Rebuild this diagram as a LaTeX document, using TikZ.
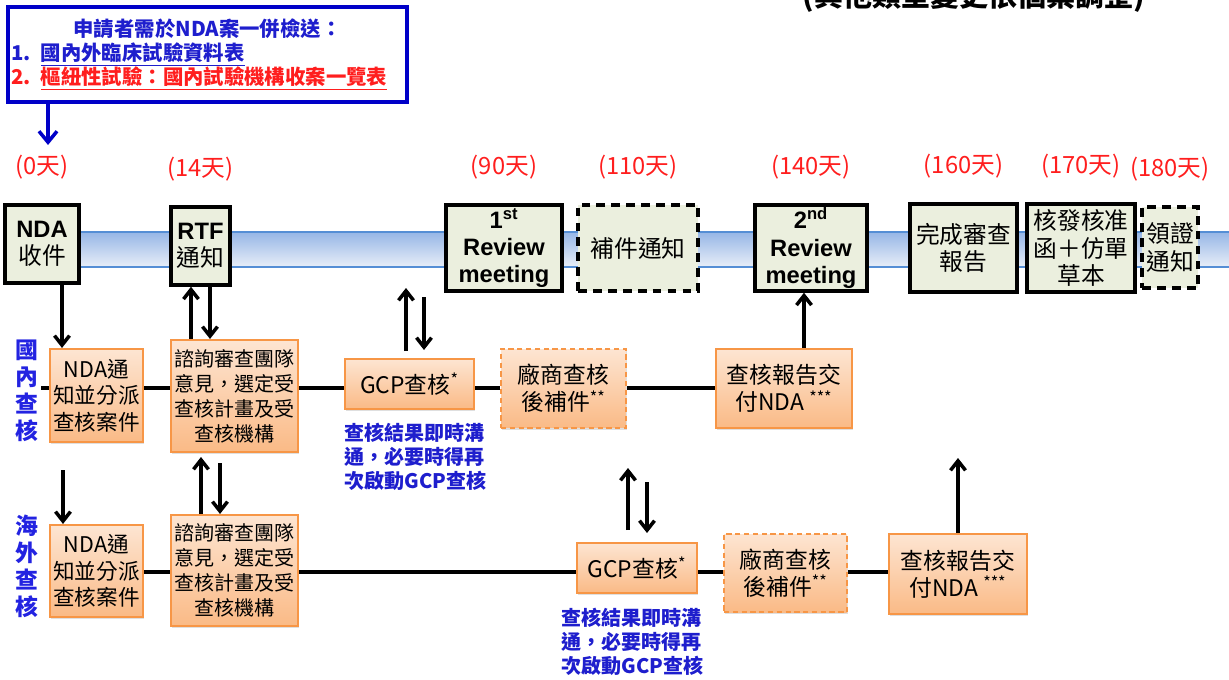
\documentclass[tikz,border=0pt]{standalone}
\usepackage{fontspec}
\setmainfont{Noto Sans CJK TC}
\newfontfamily\arialfont{Liberation Sans}
\usepackage{tikz}
\usetikzlibrary{positioning, arrows.meta, calc, shadows}
\usepackage{xcolor}
\definecolor{ms-fill}{RGB}{235,239,222}
\definecolor{tfda-orange}{RGB}{247,150,70}
\definecolor{box-top}{RGB}{253,229,210}
\definecolor{box-bot}{RGB}{250,186,134}
\definecolor{band-edge}{RGB}{85,142,213}
\definecolor{band-top}{RGB}{150,182,230}
\definecolor{band-bot}{RGB}{232,238,248}
\definecolor{req-blue}{RGB}{0,0,200}
\definecolor{note-blue}{RGB}{30,30,205}
\definecolor{row-blue}{RGB}{35,35,225}
\definecolor{day-red}{RGB}{255,30,30}

\begin{document}
\begin{tikzpicture}[x=0.02cm, y=-0.02cm, node distance=0.45cm,
		>={Straight Barb[length=1.9mm, width=3mm]},
		milestone/.style={draw, rectangle, line width=2pt, fill=ms-fill, inner sep=0pt, align=center, font=\fontsize{13.5}{15.5}\selectfont},
		msdash/.style={milestone, dash pattern=on 5pt off 3.5pt},
		msbold/.style={milestone, font=\arialfont\bfseries\fontsize{13.5}{15.5}\selectfont},
		taskbox/.style={draw=tfda-orange, rectangle, line width=1.2pt, top color=box-top, bottom color=box-bot, inner sep=0pt, align=center,
			drop shadow={shadow xshift=0.6pt, shadow yshift=-0.9pt, opacity=0.25}, font=\fontsize{13}{15.3}\selectfont},
		taskdash/.style={taskbox, dash pattern=on 3pt off 2pt},
		day/.style={text=day-red, inner sep=1pt, font=\fontsize{13.5}{16}\selectfont},
		rowlabel/.style={text=row-blue, inner sep=0pt, align=center, font=\bfseries\fontsize{13}{15.3}\selectfont},
		gcpnote/.style={text=note-blue, inner sep=0pt, align=left, anchor=north west, font=\bfseries\fontsize{11.4}{13.6}\selectfont},
		link/.style={line width=2pt},
		flow/.style={->, line width=2pt}]
	\useasboundingbox (0,0) rectangle (1229,679);

	% timeline band
	\fill[top color=band-top, bottom color=band-bot] (42,232) rectangle (1229,267);
	\draw[band-edge, line width=1.2pt] (42,232) -- (1229,232) (42,267) -- (1229,267);

	\node[anchor=south, inner sep=0pt, font=\bfseries\fontsize{16.5}{19}\selectfont] (adjust) at (974,13) {(其他類型變更依個案調整)};

	% documents to send with the NDA
	\node[draw=req-blue, line width=2pt, minimum width=7.98cm, minimum height=1.9cm, text width=7.86cm, inner xsep=0.06cm, align=left, font=\bfseries\fontsize{11.6}{13.8}\selectfont] (req) at (207.5,54.5)
		{\makebox[7.86cm]{\textcolor{note-blue}{申請者需於NDA案一併檢送：}}\\
		\textcolor{note-blue}{1. \underline{國內外臨床試驗資料表}}\\
		\textcolor{day-red}{2. \underline{樞紐性試驗：國內試驗機構收案一覽表}}};
	\coordinate (reqtip) at (48,145);
	\draw[->, req-blue, line width=2pt, >={Straight Barb[length=2.2mm, width=3.6mm]}] (reqtip |- req.south) -- (reqtip);

	% milestones on the timeline
	\node[msbold, minimum width=1.48cm, minimum height=1.56cm] (ndarecv) at (42,244) {NDA\\{\normalfont\fontsize{13.5}{15.5}\selectfont 收件}};
	\node[msbold, minimum width=1.18cm, minimum height=1.56cm] (rtf) at (200.5,246) {RTF\\{\normalfont\fontsize{13.5}{15.5}\selectfont 通知}};
	\node[msbold, minimum width=2.32cm, minimum height=1.72cm] (rev1) at (504,248) {1\textsuperscript{st}\\Review\\meeting};
	\node[msdash, minimum width=2.4cm, minimum height=1.72cm] (suppl) at (638,248) {補件通知};
	\node[msbold, minimum width=2.24cm, minimum height=1.72cm] (rev2) at (811,248) {2\textsuperscript{nd}\\Review\\meeting};
	\node[milestone, minimum width=2.14cm, minimum height=1.76cm] (done) at (963.5,248) {完成審查\\報告};
	\node[milestone, minimum width=2.16cm, minimum height=1.76cm] (approve) at (1081,248) {核發核准\\函＋仿單\\草本};
	\node[msdash, minimum width=1.12cm, minimum height=1.62cm] (license) at (1170,247.5) {領證\\通知};

	\node[day, above=of ndarecv] (d0) {(0天)};
	\node[day, above=of rtf] (d14) {(14天)};
	\node[day, above=of rev1] (d90) {(90天)};
	\node[day, above=of suppl] (d110) {(110天)};
	\node[day, above=of rev2] (d140) {(140天)};
	\node[day, above=of done] (d160) {(160天)};
	\node[day, above=of approve] (d170) {(170天)};
	\node[day, above=of license] (d180) {(180天)};

	% domestic inspection
	\node[rowlabel] (dlabel) at (27,391) {國\\內\\查\\核};
	\node[taskbox, minimum width=1.86cm, minimum height=1.86cm, font=\fontsize{12.3}{15}\selectfont] (dnda) at (96.5,395.5) {NDA通\\知並分派\\查核案件};
	\node[taskbox, minimum width=2.54cm, minimum height=2.24cm, font=\fontsize{11.4}{14.2}\selectfont] (dconsult) at (234.5,396) {諮詢審查團隊\\意見，選定受\\查核計畫及受\\查核機構};
	\node[taskbox, minimum width=2.58cm, minimum height=1cm] (dgcp) at (409.5,384) {GCP查核\textsuperscript{*}};
	\node[taskdash, minimum width=2.5cm, minimum height=1.58cm] (dvendor) at (563.5,388.5) {廠商查核\\後補件\textsuperscript{**}};
	\node[taskbox, minimum width=2.72cm, minimum height=1.58cm] (dreport) at (784,388.5) {查核報告交\\付NDA \textsuperscript{***}};
	\node[gcpnote] (dnote) at ([yshift=-0.26cm]dgcp.south west) {查核結果即時溝\\通，必要時得再\\次啟動GCP查核};

	% overseas inspection
	\node[rowlabel] (olabel) at (27,566) {海\\外\\查\\核};
	\node[taskbox, minimum width=1.86cm, minimum height=1.84cm, font=\fontsize{12.3}{15}\selectfont] (onda) at (96.5,571) {NDA通\\知並分派\\查核案件};
	\node[taskbox, minimum width=2.54cm, minimum height=2.22cm, font=\fontsize{11.4}{14.2}\selectfont] (oconsult) at (234.5,570.5) {諮詢審查團隊\\意見，選定受\\查核計畫及受\\查核機構};
	\node[taskbox, minimum width=2.4cm, minimum height=1cm] (ogcp) at (637,568) {GCP查核\textsuperscript{*}};
	\node[taskdash, minimum width=2.46cm, minimum height=1.56cm] (ovendor) at (785.5,573) {廠商查核\\後補件\textsuperscript{**}};
	\node[taskbox, minimum width=2.76cm, minimum height=1.6cm] (oreport) at (958,574) {查核報告交\\付NDA \textsuperscript{***}};
	\node[gcpnote] (onote) at ([xshift=-0.3cm, yshift=-0.28cm]ogcp.south west) {查核結果即時溝\\通，必要時得再\\次啟動GCP查核};

	% row lines
	\coordinate (dline) at (41,388);
	\coordinate (oline) at (143,572);
	\draw[link]
		(dline) -- (dline -| dnda.west)
		(dline -| dnda.east) -- (dline -| dconsult.west)
		(dline -| dconsult.east) -- (dline -| dgcp.west)
		(dline -| dgcp.east) -- (dline -| dvendor.west)
		(dline -| dvendor.east) -- (dline -| dreport.west);
	\draw[link]
		(oline -| onda.east) -- (oline -| oconsult.west)
		(oline -| oconsult.east) -- (oline -| ogcp.west)
		(oline -| ogcp.east) -- (oline -| ovendor.west)
		(oline -| ovendor.east) -- (oline -| oreport.west);

	% vertical arrows
	\coordinate (a1) at (62,0);
	\coordinate (a2) at (191,0);
	\coordinate (a3) at (210,0);
	\coordinate (a6) at (804,0);
	\draw[flow] (a1 |- ndarecv.south) -- (a1 |- dnda.north);
	\draw[flow] (a2 |- dconsult.north) -- (a2 |- rtf.south);
	\draw[flow] (a3 |- rtf.south) -- (a3 |- dconsult.north);
	\draw[flow] (a6 |- dreport.north) -- (a6 |- rev2.south);

	\coordinate (g1s) at (406,351);
	\coordinate (g1e) at (406,288);
	\coordinate (g2s) at (424,297);
	\coordinate (g2e) at (424,350);
	\draw[flow] (g1s) -- (g1e);
	\draw[flow] (g2s) -- (g2e);

	\coordinate (n1) at (63,470);
	\coordinate (c1) at (201,457);
	\coordinate (c2) at (220,463);
	\draw[flow] (n1) -- (n1 |- onda.north);
	\draw[flow] (c1 |- oconsult.north) -- (c1);
	\draw[flow] (c2) -- (c2 |- oconsult.north);

	\coordinate (h1s) at (628,530);
	\coordinate (h1e) at (628,468);
	\coordinate (h2s) at (647,482);
	\coordinate (h2e) at (647,533);
	\draw[flow] (h1s) -- (h1e);
	\draw[flow] (h2s) -- (h2e);

	\coordinate (r1) at (958,458);
	\draw[flow] (r1 |- oreport.north) -- (r1);
\end{tikzpicture}
\end{document}
